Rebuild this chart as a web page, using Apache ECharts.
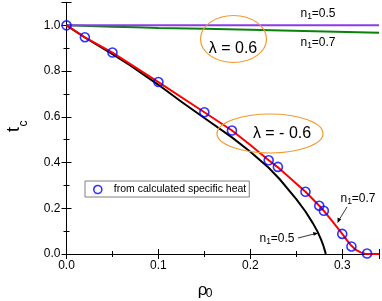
<!DOCTYPE html>
<html><head><meta charset="utf-8">
<script src="https://cdn.jsdelivr.net/npm/echarts@6/dist/echarts.min.js"></script>
<style>html,body{margin:0;padding:0;background:#fff}#c{width:382px;height:301px}</style>
</head><body><div id="c"></div>
<script>
// ---- data ----
const xTicks = [0.0, 0.1, 0.2, 0.3];
const yTicks = [0.0, 0.2, 0.4, 0.6, 0.8, 1.0];
const pointsX = [0, 0.02, 0.05, 0.1, 0.15, 0.18, 0.22, 0.23, 0.26, 0.275, 0.28, 0.30, 0.31, 0.327];
const pointsY = [1.0, 0.948, 0.881, 0.752, 0.620, 0.540, 0.410, 0.381, 0.272, 0.211, 0.189, 0.088, 0.033, 0.002];
const redX = [0, 0.02, 0.05, 0.1, 0.15, 0.18, 0.2, 0.22, 0.23, 0.245, 0.26, 0.275, 0.28, 0.29, 0.30, 0.305, 0.31, 0.315, 0.32, 0.325, 0.33, 0.34];
const redY = [1.0, 0.948, 0.881, 0.752, 0.620, 0.540, 0.477, 0.410, 0.379, 0.326, 0.272, 0.211, 0.189, 0.139, 0.088, 0.061, 0.036, 0.018, 0.007, 0.0015, 0.0, 0.0];
const blackX = [0, 0.02, 0.05, 0.069, 0.1, 0.125, 0.15, 0.18, 0.2, 0.22, 0.232, 0.25, 0.26, 0.268, 0.273, 0.277, 0.2795, 0.281, 0.2818, 0.282];
const blackY = [1.0, 0.947, 0.874, 0.826, 0.740, 0.666, 0.595, 0.510, 0.447, 0.377, 0.327, 0.240, 0.186, 0.135, 0.099, 0.063, 0.036, 0.016, 0.005, 0.0];
const greenX = [0, 0.05, 0.1, 0.2, 0.34];
const greenY = [1.0, 0.994, 0.989, 0.981, 0.968];
const purpleX = [0, 0.34];
const purpleY = [1.0, 1.0];
const legendLabel = 'from calculated specific heat';

const zip = (a, b) => a.map((v, i) => [v, b[i]]);
const chart = echarts.init(document.getElementById('c'), null, {renderer: 'canvas'});
const FF = 'Liberation Sans, Arial, sans-serif';
const axisCommon = {
  type: 'value', axisLine: {show: true, lineStyle: {color: '#000', width: 1}},
  axisTick: {show: true, inside: true, length: 5, lineStyle: {color: '#000'}},
  minorTick: {show: true, splitNumber: 2, length: 3, lineStyle: {color: '#000'}},
  splitLine: {show: false}, minorSplitLine: {show: false}
};
const nLabel = (x, y, val) => ({type: 'text', x: x, y: y, z: 11,
  style: {text: '{a|n}{b|1}{a|=' + val + '}', align: 'center', verticalAlign: 'middle',
    rich: {a: {fontSize: 12, fontFamily: FF, lineHeight: 14, fill: '#000'},
           b: {fontSize: 8.5, fontFamily: FF, fill: '#000', padding: [6, 0, 0, 0]}}}});
const option = {
  animation: false,
  grid: {left: 66.5, right: 3, top: 2.5, bottom: 47},
  legend: {
    show: true, left: 85, top: 181, orient: 'horizontal',
    borderColor: '#808080', borderWidth: 1, padding: [3, 3, 2, 8],
    itemWidth: 24, itemHeight: 8, itemGap: 4,
    textStyle: {fontFamily: FF, fontSize: 10.5, color: '#000', padding: [0, 0, 0, -1]},
    data: [{name: legendLabel, icon: 'circle',
      itemStyle: {color: 'rgba(255,255,255,0)', borderColor: '#0000ff', borderWidth: 1.6}}]
  },
  xAxis: [
    Object.assign({}, axisCommon, {min: 0, max: 0.34, interval: 0.1, position: 'bottom',
      axisLabel: {show: true, color: '#000', fontFamily: FF, fontSize: 12, margin: 6,
        formatter: v => xTicks.some(t => Math.abs(t - v) < 1e-9) ? v.toFixed(1) : ''}}),
    Object.assign({}, axisCommon, {min: 0, max: 0.34, interval: 0.1, position: 'top',
      axisLabel: {show: false}})
  ],
  yAxis: [
    Object.assign({}, axisCommon, {min: 0, max: 1.1, interval: 0.2, position: 'left',
      axisLabel: {show: true, color: '#000', fontFamily: FF, fontSize: 12, margin: 6,
        formatter: v => yTicks.some(t => Math.abs(t - v) < 1e-9) ? v.toFixed(1) : ''}}),
    Object.assign({}, axisCommon, {min: 0, max: 1.1, interval: 0.2, position: 'right',
      axisLabel: {show: false}})
  ],
  series: [
    {type: 'line', name: 'green', data: zip(greenX, greenY), smooth: true, showSymbol: false,
      lineStyle: {color: '#0a820a', width: 2}, z: 2},
    {type: 'line', name: 'purple', data: zip(purpleX, purpleY), showSymbol: false,
      lineStyle: {color: '#8a3ce8', width: 2}, z: 3},
    {type: 'line', name: 'black', data: zip(blackX, blackY), smooth: false, showSymbol: false,
      lineStyle: {color: '#000', width: 2, join: 'round'}, z: 3},
    {type: 'line', name: 'red', data: zip(redX, redY), smooth: false, showSymbol: false,
      lineStyle: {color: '#ff0000', width: 2, join: 'round'}, z: 4},
    {type: 'scatter', name: legendLabel, data: zip(pointsX, pointsY), symbol: 'circle', symbolSize: 9,
      itemStyle: {color: 'rgba(255,255,255,0)', borderColor: '#0000ff', borderWidth: 1.6}, z: 5}
  ],
  graphic: [
    {type: 'text', x: 202.5, y: 290, style: {text: 'ρ', fontFamily: FF, fontSize: 17, fill: '#000', align: 'center', verticalAlign: 'middle'}},
    {type: 'text', x: 209, y: 294, style: {text: '0', fontFamily: FF, fontSize: 12, fill: '#000', align: 'center', verticalAlign: 'middle'}},
    {type: 'text', x: 13.7, y: 129.5, rotation: Math.PI / 2, style: {text: 't', fontFamily: FF, fontSize: 18, fill: '#000', align: 'center', verticalAlign: 'middle'}},
    {type: 'text', x: 24.1, y: 123.4, rotation: Math.PI / 2, style: {text: 'c', fontFamily: FF, fontSize: 12, fill: '#000', align: 'center', verticalAlign: 'middle'}},
    {type: 'ellipse', shape: {cx: 233.5, cy: 39, rx: 33, ry: 23.5}, style: {fill: 'none', stroke: '#f39a2e', lineWidth: 1.2}, z: 10},
    {type: 'text', x: 233, y: 49, style: {text: 'λ = 0.6', fontFamily: FF, fontSize: 16, fill: '#000', align: 'center', verticalAlign: 'middle'}, z: 11},
    {type: 'ellipse', shape: {cx: 270, cy: 133.5, rx: 53, ry: 19.5}, style: {fill: 'none', stroke: '#f39a2e', lineWidth: 1.2}, z: 10},
    {type: 'text', x: 282, y: 134, style: {text: 'λ = - 0.6', fontFamily: FF, fontSize: 16, fill: '#000', align: 'center', verticalAlign: 'middle'}, z: 11},
    nLabel(318, 14, '0.5'),
    nLabel(318, 43, '0.7'),
    nLabel(358, 199, '0.7'),
    nLabel(277, 239, '0.5'),
    {type: 'line', shape: {x1: 347, y1: 207, x2: 339, y2: 220}, style: {stroke: '#000', lineWidth: 0.8}, z: 11},
    {type: 'polygon', shape: {points: [[337.5, 223], [337.6, 217.5], [341.2, 219.6]]}, style: {fill: '#000'}, z: 11},
    {type: 'line', shape: {x1: 298, y1: 238, x2: 314, y2: 234}, style: {stroke: '#000', lineWidth: 0.8}, z: 11},
    {type: 'polygon', shape: {points: [[318, 233.2], [313, 232], [313.8, 235.8]]}, style: {fill: '#000'}, z: 11}
  ]
};
chart.setOption(option);
</script></body></html>
